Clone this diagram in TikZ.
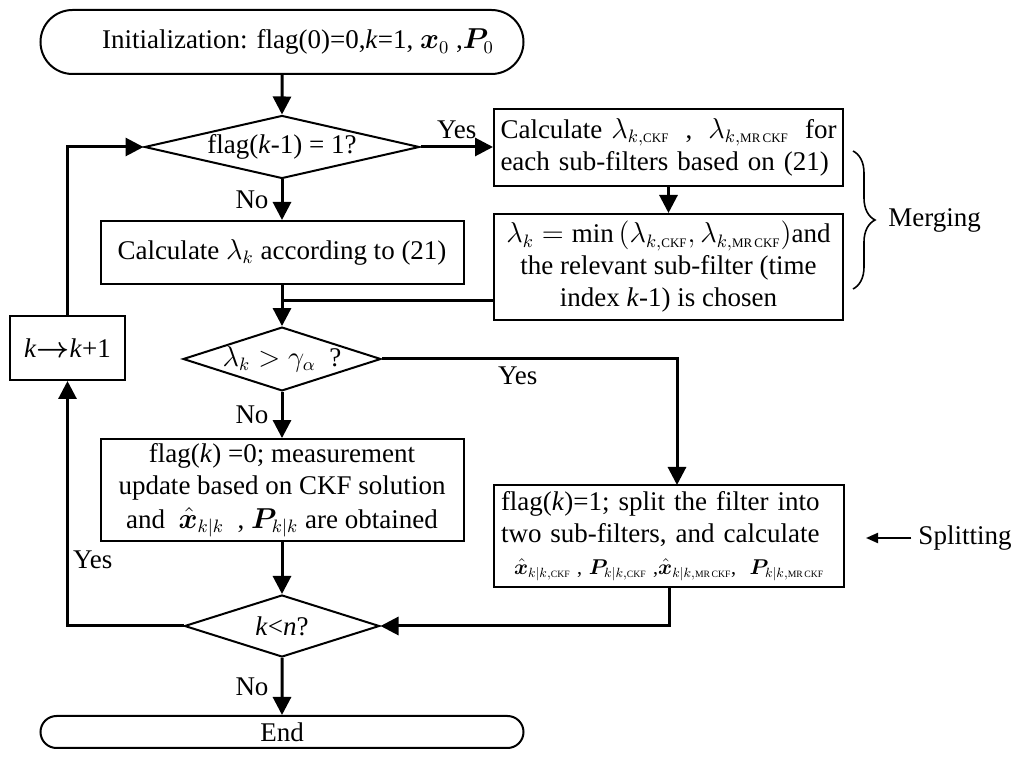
\documentclass[tikz,border=0pt]{standalone}
\usepackage{amsmath}
\usepackage{amssymb}
\usepackage{bm}
\usepackage{graphicx}
\usepackage{fontspec}
\setmainfont{Liberation Serif}
\usetikzlibrary{arrows.meta}
\usetikzlibrary{shapes.geometric}
\usetikzlibrary{shapes.misc}
\usetikzlibrary{decorations.pathreplacing}
\usetikzlibrary{calc}
\usetikzlibrary{positioning}

\newcommand{\CKF}{\text{\fontsize{6.5}{7}\selectfont CKF}}
\newcommand{\MRCKF}{\text{\fontsize{6.5}{7}\selectfont MR\,CKF}}

\tikzset{
  box/.style={draw, line width=1pt, rectangle, align=center, inner sep=2pt},
  term/.style={draw, line width=1pt, rounded rectangle, inner sep=0pt},
  decision/.style={draw, line width=1pt, diamond, inner sep=0pt},
  flow/.style={line width=1.5pt, -{Triangle[length=9pt,width=9pt]}},
  conn/.style={line width=1.5pt},
  lbl/.style={inner sep=2pt},
}

\begin{document}
\begin{tikzpicture}[x=0.5pt,y=-0.5pt,font=\fontsize{13.5}{16}\selectfont]
      \useasboundingbox (0,0) rectangle (1024,758);
      % linke Spalte
      \node[term, minimum width=241.5pt, minimum height=32pt] (start) at (282,42) {\hspace*{16pt}Initialization: flag(0)=0,\textit{k}=1, $\bm{x}_0$ ,$\bm{P}_0$};
      \node[decision, aspect=4.37, minimum width=137.5pt, minimum height=31.5pt] (d1) at (282,147) {flag(\textit{k}-1) = 1?};
      \node[box, minimum width=181.5pt, minimum height=31.5pt] (calc) at (282,252.5) {Calculate $\lambda_k$ according to (21)};
      \node[decision, aspect=3.1, minimum width=96.5pt, minimum height=31pt] (d2) at (282,359) {$\lambda_k > \gamma_\alpha$ \ ?};
      \node[box, minimum width=181.5pt, minimum height=47pt] (upd) at (282,490) {flag(\textit{k}) =0; measurement\\update based on CKF solution\\[1pt]and \ $\hat{\bm{x}}_{k|k}$ \ , $\bm{P}_{k|k}$ are obtained};
      \node[decision, aspect=3.15, minimum width=97.5pt, minimum height=31pt] (d3) at (282,626) {\textit{k}<\textit{n}?};
      \node[term, minimum width=241.5pt, minimum height=16pt] (end) at (282,732) {End};
      \node[box, minimum width=57.5pt, minimum height=32pt] (inc) at (67.5,348) {\textit{k}$\bm{\rightarrow}$\textit{k}+1};
      % rechte Spalte
      \node[box, minimum width=174.5pt, minimum height=38.5pt, text width=168pt, align=left] (lam) at (668.5,147.5) {Calculate $\lambda_{k,\CKF}$\hfill,\hfill$\lambda_{k,\MRCKF}$\hfill for\\each sub-filters based on (21)};
      \node[box, minimum width=174.5pt, minimum height=53pt] (merge) at (668.5,267) {$\lambda_k=\min\left(\lambda_{k,\CKF},\lambda_{k,\MRCKF}\right)$and\\the relevant sub-filter (time\\index \textit{k}-1) is chosen};
      \node[box, minimum width=175pt, minimum height=51pt, text width=168pt, align=left] (split) at (669,536) {flag(\textit{k})=1; split the filter into\\two sub-filters, and calculate\\[0pt]\makebox[\linewidth][c]{\resizebox{155pt}{!}{$\hat{\bm{x}}_{k|k,\CKF}$ , $\bm{P}_{k|k,\CKF}$ ,$\hat{\bm{x}}_{k|k,\MRCKF}$, \ $\bm{P}_{k|k,\MRCKF}$}}};
      \coordinate (mj) at (282,301);
      \coordinate (sp) at (677,485);
      % Pfeile
      \draw[flow] (start) -- (d1);
      \draw[flow] (d1) -- node[lbl, left=4pt]{No} (calc);
      \draw[flow] (d1.east) -- node[above]{Yes} (d1.east -| lam.west);
      \draw[flow] (lam) -- (merge);
      \draw[flow] (calc) -- (d2);
      \draw[conn] (merge.west |- mj) -- (mj);
      \draw[flow] (d2) -- node[lbl, left=4pt]{No} (upd);
      \draw[flow] (d2.east) -| node[pos=0.23,below]{Yes} (sp);
      \draw[flow] (upd) -- (d3);
      \draw[flow] (split.south) |- (d3.east);
      \draw[flow] (d3) -- node[lbl, left=4pt]{No} (end);
      \draw[flow] (d3.west) -| node[lbl, pos=0.635,right]{Yes} (inc.south);
      \draw[flow] (inc.north) |- (d1.west);
      % Merging / Splitting
      \coordinate (bt) at (853,151);
      \coordinate (bb) at (853,289);
      \draw[line width=0.8pt, decorate, decoration={brace, amplitude=11pt}] (bt) -- (bb) node[midway, right=14pt] (mrg) {Merging};
      \node (spl) at (965,538) {Splitting};
      \coordinate (sptip) at (866,538);
      \draw[line width=1pt, -{Triangle[length=6pt,width=5pt]}] (spl.west) -- (sptip);
\end{tikzpicture}
\end{document}
